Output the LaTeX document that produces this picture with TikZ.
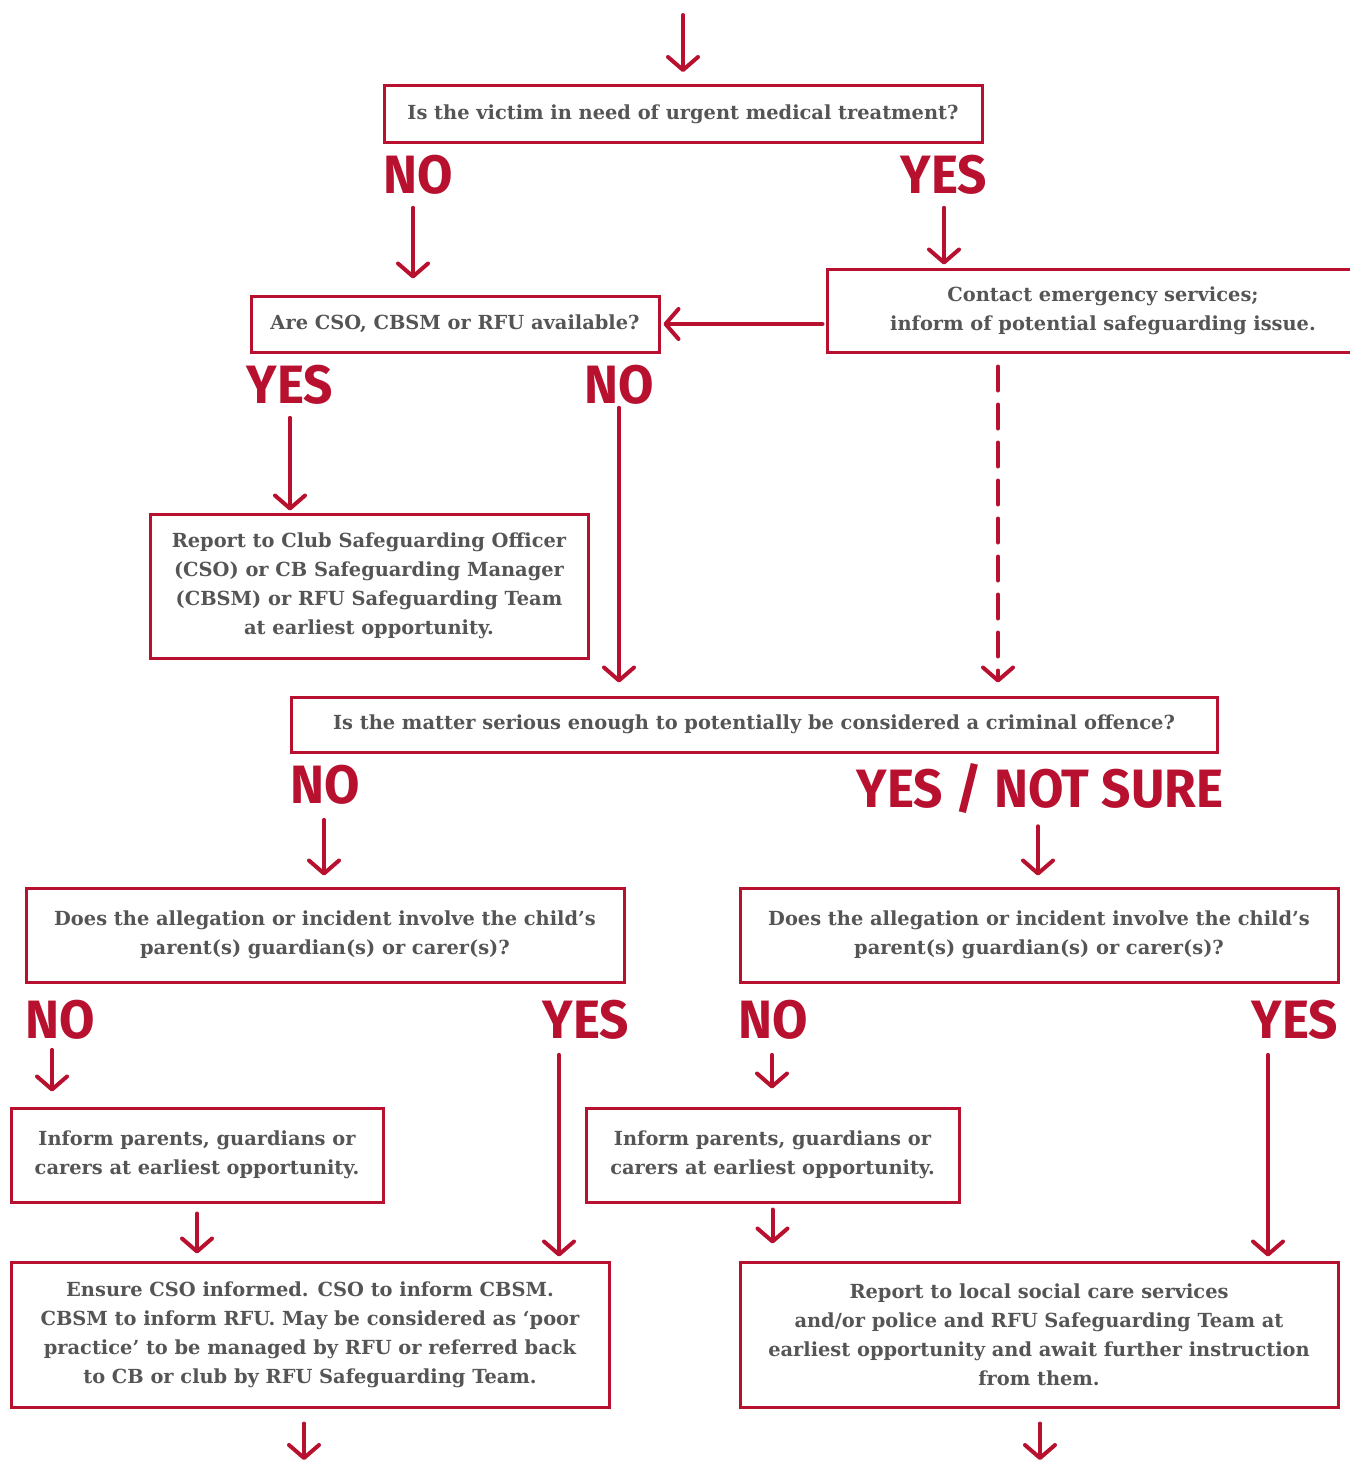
\documentclass[tikz,border=0pt]{standalone}
\usepackage{fontspec}
\setmainfont{DejaVu Serif}
\newfontfamily\hand{Fira Sans}
\usetikzlibrary{arrows.meta}
\definecolor{rfured}{HTML}{B8102F}
\definecolor{txtgray}{HTML}{555555}
\begin{document}
\begin{tikzpicture}[x=1pt,y=-1pt,
  box/.style={draw=rfured, line width=3pt, align=center, text=txtgray,
     font=\bfseries\fontsize{19.4}{29}\selectfont, inner sep=0pt},
  lab/.style={text=rfured, inner sep=0pt, font=\hand\bfseries\fontsize{54}{54}\selectfont, xscale=0.95},
  arr/.style={draw=rfured, line width=4pt, line cap=round,
     -{Straight Barb[length=13pt,width=30pt,line width=4pt,round]}},
]
\useasboundingbox (0,0) rectangle (1349,1474);
% boxes
\node[box, minimum width=598, minimum height=57] (b1) at (683,114) {Is the victim in need of urgent medical treatment?};
\node[box, minimum width=408, minimum height=56] (b2) at (455,324) {Are CSO, CBSM or RFU available?};
\node[box, minimum width=552, minimum height=83] (b3) at (1103,310.5) {Contact emergency services;\\inform of potential safeguarding issue.};
\node[box, minimum width=438, minimum height=144] (b4) at (369,586) {Report to Club Safeguarding Officer\\(CSO) or CB Safeguarding Manager\\(CBSM) or RFU Safeguarding Team\\at earliest opportunity.};
\node[box, minimum width=926, minimum height=55] (b5) at (754,724.5) {Is the matter serious enough to potentially be considered a criminal offence?};
\node[box, minimum width=598, minimum height=94] (b6l) at (325,935) {Does the allegation or incident involve the child’s\\parent(s) guardian(s) or carer(s)?};
\node[box, minimum width=598, minimum height=94] (b6r) at (1039,935) {Does the allegation or incident involve the child’s\\parent(s) guardian(s) or carer(s)?};
\node[box, minimum width=372, minimum height=94] (b7l) at (197,1155) {Inform parents, guardians or\\carers at earliest opportunity.};
\node[box, minimum width=373, minimum height=94] (b7r) at (772.5,1155) {Inform parents, guardians or\\carers at earliest opportunity.};
\node[box, minimum width=598, minimum height=145] (b8l) at (310,1334.5) {Ensure CSO informed. CSO to inform CBSM.\\CBSM to inform RFU. May be considered as ‘poor\\practice’ to be managed by RFU or referred back\\to CB or club by RFU Safeguarding Team.};
\node[box, minimum width=598, minimum height=145] (b8r) at (1039,1334.5) {Report to local social care services\\and/or police and RFU Safeguarding Team at\\earliest opportunity and await further instruction\\from them.};
% labels
\node[lab] (no1) at (418,175) {NO};
\node[lab] (yes1) at (944,175) {YES};
\node[lab] (yes2) at (290,385) {YES};
\node[lab] (no2) at (619,385) {NO};
\node[lab] (no3) at (325,785) {NO};
\node[lab] (yns) at (1040,788) {YES / NOT SURE};
\node[lab] (no4) at (60,1020) {NO};
\node[lab] (yes4) at (586,1020) {YES};
\node[lab] (no5) at (773,1020) {NO};
\node[lab] (yes5) at (1295,1020) {YES};
% free ends
\coordinate (top) at (683,15);
\coordinate (endl) at (304,1460);
\coordinate (endr) at (1040,1460);
% connectors
\draw[arr, shorten >=12] (top) -- (b1.north);
\draw[arr, shorten <=13, shorten >=16] (no1.south -| 413,0) -- (b2.north -| 413,0);
\draw[arr, shorten <=13, shorten >=3] (yes1.south -| 944,0) -- (b3.north -| 944,0);
\draw[arr, shorten <=3, shorten >=3] (b3.west |- b2.east) -- (b2.east);
\draw[arr, shorten <=13, shorten >=2] (yes2.south -| 290,0) -- (b4.north -| 290,0);
\draw[arr, shorten <=3, shorten >=13] (no2.south -| 619,0) -- (b5.north -| 619,0);
\draw[arr, dash pattern=on 24pt off 14pt, shorten <=13, shorten >=13] (b3.south -| 998,0) -- (b5.north -| 998,0);
\draw[arr, shorten <=15, shorten >=11] (no3.south -| 324,0) -- (b6l.north -| 324,0);
\draw[arr, shorten <=13, shorten >=11] (yns.south -| 1038,0) -- (b6r.north -| 1038,0);
\draw[arr, shorten <=10, shorten >=15] (no4.south -| 52,0) -- (b7l.north -| 52,0);
\draw[arr, shorten <=15, shorten >=4] (yes4.south -| 559,0) -- (b8l.north -| 559,0);
\draw[arr, shorten <=15, shorten >=18] (no5.south -| 772,0) -- (b7r.north -| 772,0);
\draw[arr, shorten <=15, shorten >=4] (yes5.south -| 1268,0) -- (b8r.north -| 1268,0);
\draw[arr, shorten <=10, shorten >=7] (b7l.south) -- (b8l.north -| b7l.south);
\draw[arr, shorten <=6, shorten >=17] (b7r.south) -- (b8r.north -| b7r.south);
\draw[arr, shorten <=15] (b8l.south -| endl) -- (endl);
\draw[arr, shorten <=15] (b8r.south -| endr) -- (endr);
\end{tikzpicture}
\end{document}
